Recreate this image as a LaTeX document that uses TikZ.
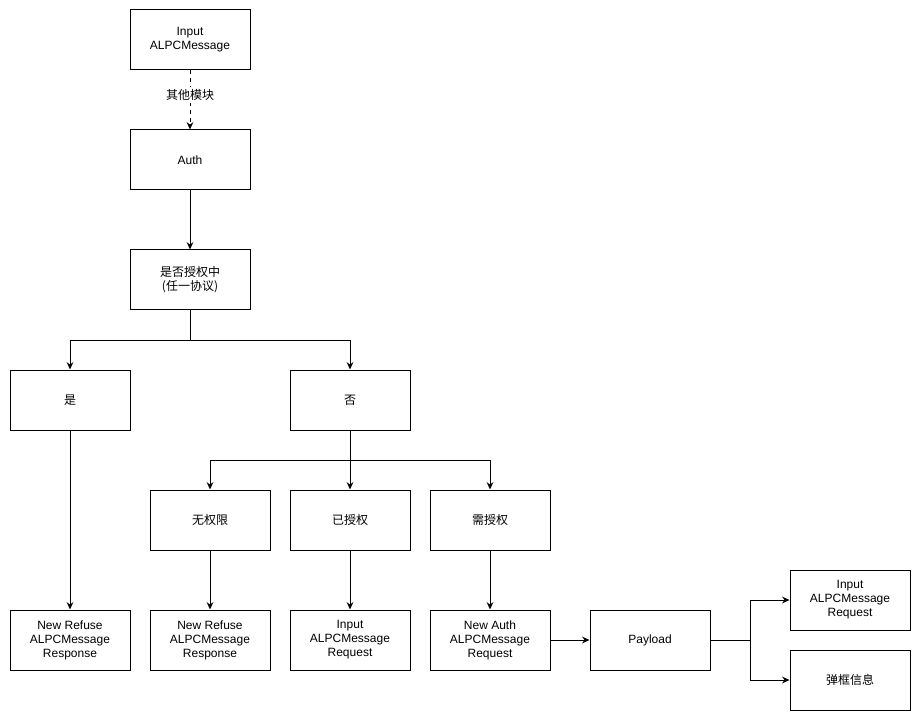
\documentclass[tikz,border=0pt]{standalone}
\usepackage{fontspec}
\setmainfont{Liberation Sans}
\newfontfamily\cjk{Noto Sans CJK SC}
\usetikzlibrary{arrows.meta,positioning}

\begin{document}
\begin{tikzpicture}[x=0.75pt,y=-0.75pt]
   \tikzstyle{box}=[draw,line width=0.75pt,minimum width=90pt,minimum height=45pt,align=center,font=\fontsize{9}{10.5}\selectfont,inner sep=1pt]
   \tikzstyle{ar}=[line width=0.75pt,-{Stealth[length=5.5pt,width=5pt]}]
   \tikzstyle{ln}=[line width=0.75pt]

   \useasboundingbox (0,0) rectangle (921,720);

   \node (in) [box] at (190,40) {Input\\ALPCMessage};
   \node (auth) [box] at (190,160) {Auth};
   \node (check) [box] at (190,280) {\cjk 是否授权中\\\cjk (任一协议)};
   \node (yes) [box] at (70,400) {\cjk 是};
   \node (no) [box] at (350,400) {\cjk 否};
   \node (none) [box] at (210,520) {\cjk 无权限};
   \node (granted) [box] at (350,520) {\cjk 已授权};
   \node (need) [box] at (490,520) {\cjk 需授权};
   \node (refuse1) [box] at (70,640) {New Refuse\\ALPCMessage\\Response};
   \node (refuse2) [box] at (210,640) {New Refuse\\ALPCMessage\\Response};
   \node (req1) [box] at (350,640) {Input\\ALPCMessage\\Request};
   \node (newauth) [box] at (490,640) {New Auth\\ALPCMessage\\Request};
   \node (payload) [box] at (650,640) {Payload};
   \node (req2) [box] at (850,600) {Input\\ALPCMessage\\Request};
   \node (popup) [box] at (850,680) {\cjk 弹框信息};

   % top chain
   \draw [ar,dashed] (in) -- node [pos=0.42,fill=white,inner sep=2pt,font=\cjk\fontsize{9}{10.5}\selectfont] {其他模块} (auth);
   \draw [ar] (auth) -- (check);

   % split on auth state
   \draw [ln] (check.south) -- ++(0,30) coordinate (c1);
   \draw [ar] (c1) -| (yes.north);
   \draw [ar] (c1) -| (no.north);
   \draw [ln] (no.south) -- ++(0,30) coordinate (c2);
   \draw [ar] (c2) -| (none.north);
   \draw [ar] (c2) -- (granted.north);
   \draw [ar] (c2) -| (need.north);

   % results
   \draw [ar] (yes) -- (refuse1);
   \draw [ar] (none) -- (refuse2);
   \draw [ar] (granted) -- (req1);
   \draw [ar] (need) -- (newauth);
   \draw [ar] (newauth) -- (payload);
   \draw [ln] (payload.east) -- ++(40,0) coordinate (c3);
   \draw [ar] (c3) |- (req2.west);
   \draw [ar] (c3) |- (popup.west);
\end{tikzpicture}
\end{document}
